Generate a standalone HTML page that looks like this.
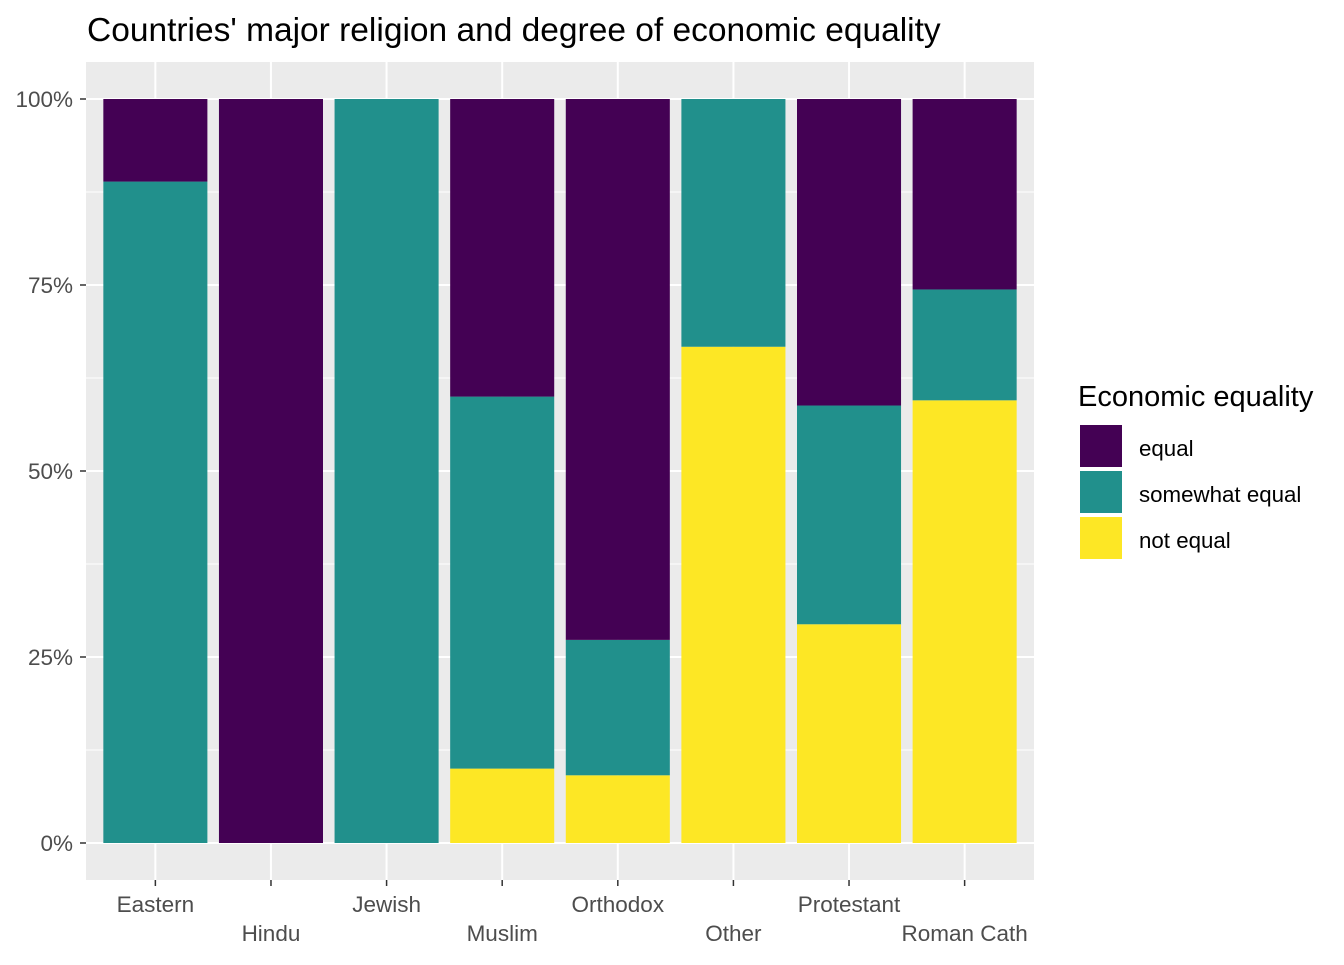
<!DOCTYPE html>
<html><head><meta charset="utf-8"><style>
body{margin:0;background:#fff;}
svg{font-family:"Liberation Sans",Arial,sans-serif;}
</style></head><body>
<svg id="chart" width="1344" height="960" viewBox="0 0 1344 960" xmlns="http://www.w3.org/2000/svg">
<rect width="1344" height="960" fill="#fff"/>
<text x="87" y="41" font-size="33.5" fill="#000">Countries' major religion and degree of economic equality</text>
<rect x="86" y="62" width="948" height="818" fill="#ebebeb"/>
<g id="grid"></g><g id="bars"></g><g id="axes"></g>
<g>
<text x="1078" y="406" font-size="29" fill="#000">Economic equality</text>
<rect x="1079" y="424" width="44" height="44" fill="#440154" stroke="#fff" stroke-width="2"/>
<text x="1139" y="456" font-size="22.3">equal</text>
<rect x="1079" y="470" width="44" height="44" fill="#21908c" stroke="#fff" stroke-width="2"/>
<text x="1139" y="502" font-size="22.3">somewhat equal</text>
<rect x="1079" y="516" width="44" height="44" fill="#fde725" stroke="#fff" stroke-width="2"/>
<text x="1139" y="548" font-size="22.3">not equal</text>
</g>
</svg>
<script>
const categories=["Eastern","Hindu","Jewish","Muslim","Orthodox","Other","Protestant","Roman Cath"];
const notEqual=[0,0,0,10,9.1,66.7,29.4,59.5];
const somewhatEqual=[88.9,0,100,50,18.2,33.3,29.4,14.9];
const equalVals=[11.1,100,0,40,72.7,0,41.2,25.6];
const yTicks=[0,25,50,75,100];
const yTickLabels=["0%","25%","50%","75%","100%"];
const NS="http://www.w3.org/2000/svg";
const x0=86,x1=1034,n=categories.length,step=(x1-x0)/(n+0.2),bw=step*0.9;
function xC(i){return x0+step*0.6+i*step;}
function y(v){return 843-v*7.44;}
function mk(t,a,p){const e=document.createElementNS(NS,t);for(const k in a)e.setAttribute(k,a[k]);p.appendChild(e);return e;}
const grid=document.getElementById('grid'),bars=document.getElementById('bars'),axes=document.getElementById('axes');
for(let v=12.5;v<100;v+=25){const l=mk('line',{x1:x0,x2:x1,y1:y(v),y2:y(v),stroke:'#fff','stroke-width':1},grid);

}
yTicks.forEach((v,i)=>{const l=mk('line',{x1:x0,x2:x1,y1:y(v),y2:y(v),stroke:'#fff','stroke-width':2},grid);


const t=mk('line',{x1:80,x2:86,y1:y(v),y2:y(v),stroke:'#333','stroke-width':1.5},axes);


const tx=mk('text',{x:73,y:y(v)+8,'text-anchor':'end','font-size':22.5,fill:'#4d4d4d'},axes);tx.textContent=yTickLabels[i];

});
categories.forEach((c,i)=>{const cx=xC(i);
const g=mk('line',{x1:cx,x2:cx,y1:62,y2:880,stroke:'#fff','stroke-width':2},grid);


const segs=[[notEqual[i],'#fde725','not-equal'],[somewhatEqual[i],'#21908c','somewhat-equal'],[equalVals[i],'#440154','equal']];
let base=0;segs.forEach(s=>{if(s[0]>0){const r=mk('rect',{x:cx-bw/2,y:y(base+s[0]),width:bw,height:s[0]*7.44,fill:s[1]},bars);

}base+=s[0];});
const t=mk('line',{x1:cx,x2:cx,y1:880,y2:886,stroke:'#333','stroke-width':1.5},axes);


const tx=mk('text',{x:cx,y:i%2?941:912,'text-anchor':'middle','font-size':22.5,fill:'#4d4d4d'},axes);tx.textContent=c;

});
</script>
</body></html>
